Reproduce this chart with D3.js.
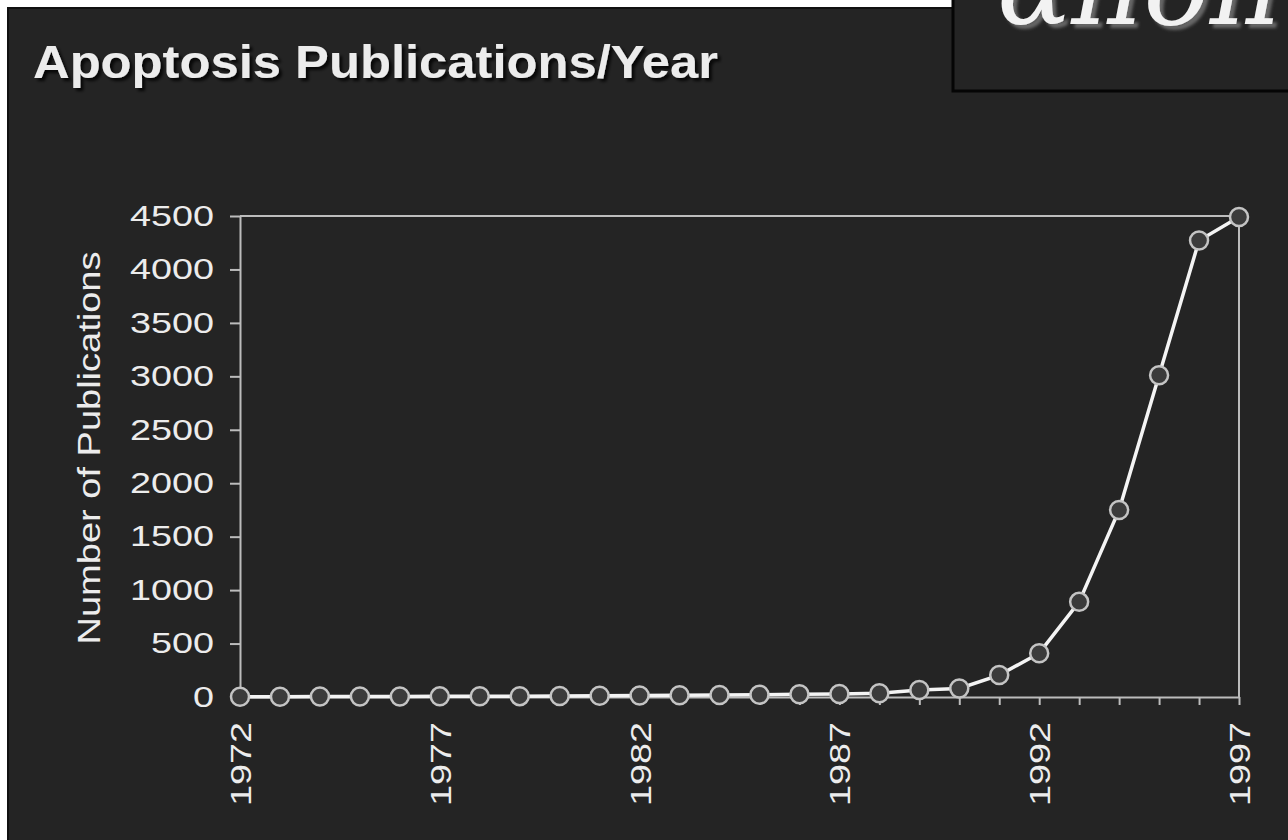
<!DOCTYPE html>
<meta charset="utf-8">
<head>
  <title>Apoptosis Publications/Year</title>
  <script src="https://d3js.org/d3.v7.min.js"></script>
  <style>
    body { margin: 0; background: #fff; }
    svg { display: block; }
    text { font-family: "Liberation Sans", Arial, sans-serif; fill: #ececec; }
  </style>
</head>
<body>
  <div id="chart"></div>
  <script>
    var years = [1972, 1973, 1974, 1975, 1976, 1977, 1978, 1979, 1980, 1981, 1982, 1983, 1984,
      1985, 1986, 1987, 1988, 1989, 1990, 1991, 1992, 1993, 1994, 1995, 1996, 1997];
    var publications = [2, 3, 4, 5, 5, 6, 7, 8, 10, 12, 14, 16, 18,
      22, 25, 28, 35, 65, 80, 205, 410, 890, 1750, 3010, 4270, 4490];
    var yearLabels = [1972, 1977, 1982, 1987, 1992, 1997];
    var yTicks = [0, 500, 1000, 1500, 2000, 2500, 3000, 3500, 4000, 4500];

    var W = 1288, H = 840;
    var margin = { top: 216, right: 49, bottom: 143, left: 240 };

    var svg = d3.select("#chart").append("svg")
      .attr("width", W).attr("height", H);

    var defs = svg.append("defs");
    var shadow = defs.append("filter").attr("id", "shadow")
      .attr("x", "-10%").attr("y", "-10%").attr("width", "130%").attr("height", "140%");
    shadow.append("feDropShadow").attr("dx", 3).attr("dy", 3).attr("stdDeviation", 1.5)
      .attr("flood-color", "#000").attr("flood-opacity", 0.8);
    var logoShadow = defs.append("filter").attr("id", "logoShadow")
      .attr("x", "-10%").attr("y", "-10%").attr("width", "130%").attr("height", "140%");
    logoShadow.append("feDropShadow").attr("dx", 4).attr("dy", 4).attr("stdDeviation", 1.5)
      .attr("flood-color", "#666").attr("flood-opacity", 1);

    // page background + panel
    svg.append("rect").attr("width", W).attr("height", H).attr("fill", "#fff");
    svg.append("rect").attr("x", 8).attr("y", 8).attr("width", W).attr("height", H)
      .attr("fill", "#242424").attr("stroke", "#111").attr("stroke-width", 2);

    // logo box top right; its word runs past the top edge, as in the slide
    svg.append("rect").attr("x", 953).attr("y", -5).attr("width", 400).attr("height", 96)
      .attr("fill", "#242424").attr("stroke", "#050505").attr("stroke-width", 3);
    svg.append("text").attr("x", 997).attr("y", 24)
      .attr("filter", "url(#logoShadow)")
      .style("font-family", "'DejaVu Serif', serif").style("font-style", "italic")
      .style("font-size", "110px").style("fill", "#f2f2f2")
      .text("απόπτωσις");

    // title
    svg.append("text").attr("x", 33).attr("y", 78)
      .attr("filter", "url(#shadow)")
      .style("font-size", "46px").style("font-weight", "bold")
      .attr("textLength", 685).attr("lengthAdjust", "spacingAndGlyphs")
      .text("Apoptosis Publications/Year");

    var x = d3.scaleLinear().domain([1972, 1997]).range([margin.left, W - margin.right]);
    var y = d3.scaleLinear().domain([0, 4500]).range([H - margin.bottom, margin.top]);

    var axisColor = "#bcbcbc";

    // top and right frame
    svg.append("path")
      .attr("d", "M" + x(1972) + "," + y(4500) + "H" + x(1997) + "V" + y(0))
      .attr("fill", "none").attr("stroke", axisColor).attr("stroke-width", 2);

    var yAxis = svg.append("g")
      .attr("transform", "translate(" + margin.left + ",0)")
      .call(d3.axisLeft(y).tickValues(yTicks).tickFormat(d3.format("d"))
        .tickSize(10).tickSizeOuter(0).tickPadding(16));
    yAxis.selectAll("text")
      .style("font-size", "29px")
      .attr("textLength", function (d) { return String(d).length * 21; })
      .attr("lengthAdjust", "spacingAndGlyphs");

    var xAxis = svg.append("g")
      .attr("transform", "translate(0," + y(0) + ")")
      .call(d3.axisBottom(x).tickValues(years).tickSize(8).tickSizeOuter(0)
        .tickFormat(function (d) { return yearLabels.indexOf(d) >= 0 ? d : ""; }));
    xAxis.selectAll("text")
      .attr("y", 0).attr("x", -25).attr("dy", "0.36em")
      .attr("transform", "rotate(-90)")
      .style("text-anchor", "end")
      .style("font-size", "29px")
      .attr("textLength", function (d) { return yearLabels.indexOf(d) >= 0 ? 84 : null; })
      .attr("lengthAdjust", "spacingAndGlyphs");

    svg.selectAll(".domain, .tick line")
      .attr("stroke", axisColor).attr("stroke-width", 2);
    svg.selectAll(".tick text").style("fill", "#ececec");

    // axis title
    svg.append("text")
      .attr("transform", "translate(100,448) rotate(-90)")
      .style("text-anchor", "middle").style("font-size", "32px")
      .attr("textLength", 393).attr("lengthAdjust", "spacingAndGlyphs")
      .text("Number of Publications");

    var data = years.map(function (yr, i) { return { year: yr, value: publications[i] }; });

    svg.append("path")
      .datum(data)
      .attr("fill", "none")
      .attr("stroke", "#f4f4f4")
      .attr("stroke-width", 3.5)
      .attr("d", d3.line().x(function (d) { return x(d.year); }).y(function (d) { return y(d.value); }));

    svg.append("g")
      .selectAll("circle")
      .data(data)
      .enter()
      .append("circle")
      .attr("cx", function (d) { return x(d.year); })
      .attr("cy", function (d) { return y(d.value); })
      .attr("r", 9)
      .attr("fill", "#3b3b3b")
      .attr("stroke", "#c4c4c4")
      .attr("stroke-width", 2.5);
  </script>
</body>
</html>
